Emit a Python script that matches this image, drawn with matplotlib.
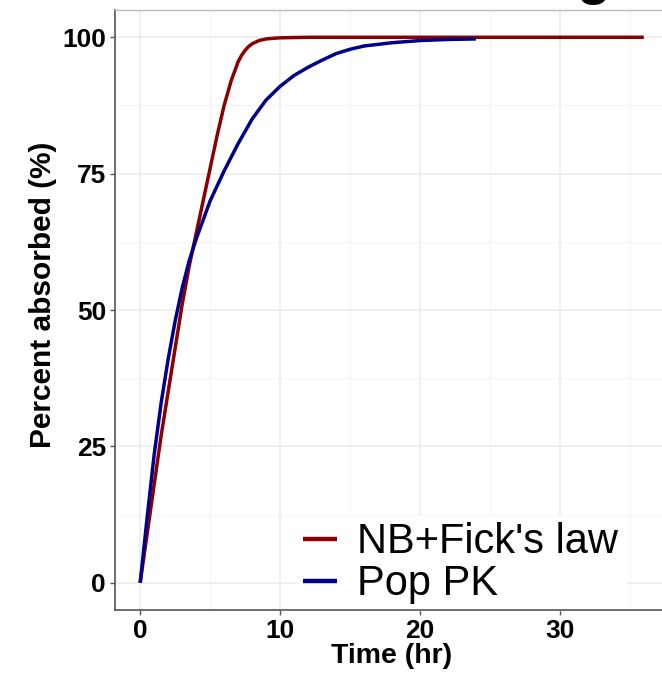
import matplotlib
matplotlib.use("Agg")
import matplotlib.pyplot as plt
from matplotlib.ticker import MultipleLocator

plt.rcParams["font.family"] = ["Liberation Sans", "DejaVu Sans"]

# NB + Fick's law curve
fick_t = [0, 0.5, 1, 1.5, 2, 2.5, 3, 3.5, 4, 4.5, 5, 5.5, 6, 6.5, 7, 7.25, 7.5,
          7.75, 8, 8.25, 8.5, 9, 10, 12, 15, 20, 25, 30, 36]
fick_y = [0, 9, 18, 27, 35, 43, 51, 58, 64, 70, 76, 82, 87.5, 92, 95.5, 96.7, 97.6,
          98.3, 98.8, 99.1, 99.4, 99.7, 99.9, 100, 100, 100, 100, 100, 100]

# Pop PK curve
pk_t = [0, 0.5, 1, 1.5, 2, 2.5, 3, 3.5, 4, 5, 6, 7, 8, 9, 10, 11, 12, 13, 14,
        15, 16, 18, 20, 22, 24]
pk_y = [0, 12, 23.5, 33, 41, 48, 54, 59, 63, 70, 75.5, 80.5, 85, 88.5, 91, 93,
        94.5, 95.8, 97.0, 97.8, 98.4, 99.0, 99.4, 99.6, 99.7]

series_names = ["NB+Fick's law", "Pop PK"]
series_colors = ["#8B0000", "#00008B"]

fig = plt.figure(figsize=(6.62, 6.74), dpi=100)
# panel runs a little past the right edge of the picture (cropped original)
ax = fig.add_axes([115 / 662, 64 / 674, 554 / 662, 600 / 674])

ax.plot(fick_t, fick_y, color=series_colors[0], lw=2.5, label=series_names[0],
        solid_capstyle="butt", zorder=3)
ax.plot(pk_t, pk_y, color=series_colors[1], lw=2.5, label=series_names[1],
        solid_capstyle="butt", zorder=3)

ax.set_xlim(-1.8, 37.8)
ax.set_ylim(-5, 105)
ax.xaxis.set_major_locator(MultipleLocator(10))
ax.xaxis.set_minor_locator(MultipleLocator(5))
ax.yaxis.set_major_locator(MultipleLocator(25))
ax.yaxis.set_minor_locator(MultipleLocator(12.5))

ax.grid(which="major", color="#EBEBEB", lw=1.1, zorder=0)
ax.grid(which="minor", color="#F2F2F2", lw=0.6, zorder=0)
ax.set_axisbelow(True)

for s in ["left", "bottom"]:
    ax.spines[s].set_color("#555555")
    ax.spines[s].set_linewidth(1.2)
ax.spines["top"].set_color("#BBBBBB")
ax.spines["top"].set_linewidth(1.0)
ax.spines["right"].set_visible(False)

ax.tick_params(which="major", length=3.5, width=1, color="#555555",
               labelsize=19, pad=3)
ax.tick_params(which="minor", length=0)
for lab in ax.get_xticklabels() + ax.get_yticklabels():
    lab.set_fontweight("bold")

ax.set_xlabel("Time (hr)", fontsize=20.5, fontweight="bold", labelpad=0)
ax.set_ylabel("Percent absorbed (%)", fontsize=21.5, fontweight="bold")
ax.yaxis.set_label_coords(-58 / 554, 0.525)

leg = ax.legend(loc="center left", bbox_to_anchor=(182 / 554, 0.078),
                fontsize=30, frameon=True, facecolor="white", edgecolor="white",
                framealpha=1, handlelength=0.8, handletextpad=0.5,
                labelspacing=0.05, borderpad=0.15, borderaxespad=0,
                fancybox=False)
leg.set_zorder(2.2)  # keep the white box under the axis line
for line in leg.get_lines():
    line.set_linewidth(3.2)

# fragment of a larger title cut off at the top edge of the original
fig.text(594 / 662, 1 + 7 / 674, "g", fontsize=40, fontweight="bold",
         ha="center", va="baseline")

fig.savefig("out.png", dpi=100)
